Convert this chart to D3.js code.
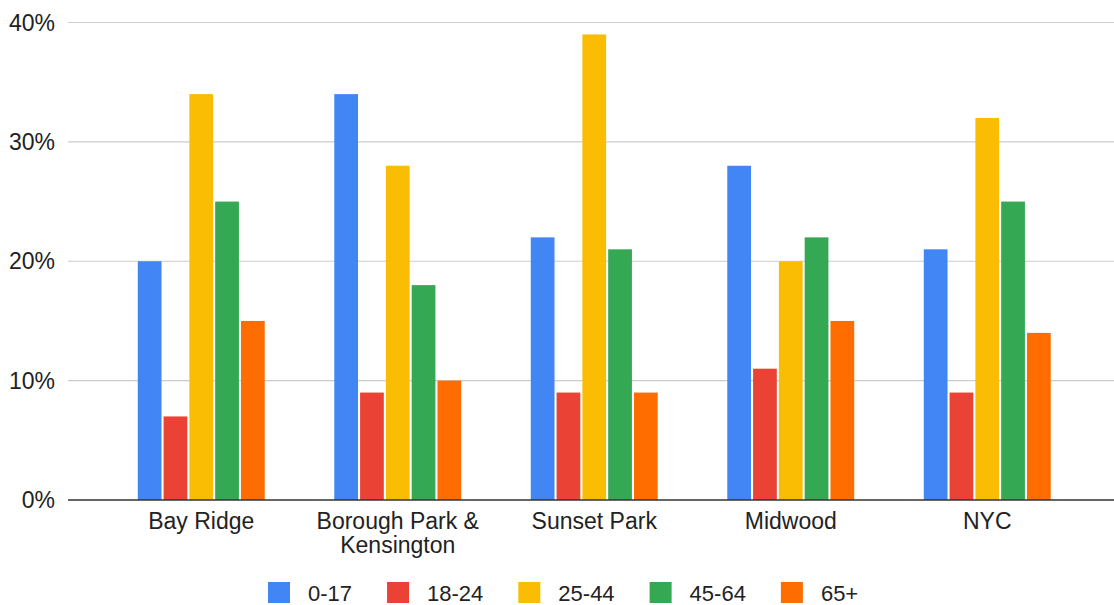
<!DOCTYPE html>
<html>
<head>
<meta charset="utf-8">
<script src="https://cdn.jsdelivr.net/npm/d3@7"></script>
<style>
  body { margin: 0; background: #fff; }
  svg { display: block; font-family: "Liberation Sans", Arial, sans-serif; }
</style>
</head>
<body>
<svg id="chart" width="1114" height="605"></svg>
<script>
// data (percent of population)
var neighborhoods = ["Bay Ridge", "Borough Park & Kensington", "Sunset Park", "Midwood", "NYC"];
var ageGroups = ["0-17", "18-24", "25-44", "45-64", "65+"];
var age0to17  = [20, 34, 22, 28, 21];
var age18to24 = [7, 9, 9, 11, 9];
var age25to44 = [34, 28, 39, 20, 32];
var age45to64 = [25, 18, 21, 22, 25];
var age65plus = [15, 10, 9, 15, 14];
var yTicks = [0, 10, 20, 30, 40];
var colors = ["#4285f4", "#ea4335", "#fbbc04", "#34a853", "#ff6d01"];

var series = [age0to17, age18to24, age25to44, age45to64, age65plus];

var svg = d3.select("#chart");

var y = d3.scaleLinear().domain([0, 40]).range([500, 22.5]);

var x0 = d3.scaleBand()
    .domain(neighborhoods)
    .range([103, 1085.5])
    .paddingInner(0.354)
    .paddingOuter(0.177);

var x1 = d3.scaleBand()
    .domain(ageGroups)
    .range([0, x0.bandwidth()])
    .paddingInner(0.08);

// gridlines
svg.append("g")
    .selectAll("line")
    .data(yTicks.filter(d => d > 0))
    .join("line")
    .attr("x1", 68)
    .attr("x2", 1114)
    .attr("y1", d => y(d))
    .attr("y2", d => y(d))
    .attr("stroke", "#cccccc")
    .attr("stroke-width", 1.2);

// y labels
svg.append("g")
    .selectAll("text")
    .data(yTicks)
    .join("text")
    .attr("x", 55)
    .attr("y", d => y(d) + 8)
    .attr("text-anchor", "end")
    .attr("font-size", 23)
    .attr("fill", "#222")
    .text(d => d + "%");

// bars
var groups = svg.append("g")
    .selectAll("g")
    .data(neighborhoods)
    .join("g")
    .attr("transform", d => `translate(${x0(d)},0)`);

groups.selectAll("rect")
    .data((d, i) => ageGroups.map((a, j) => ({ key: a, value: series[j][i], color: colors[j] })))
    .join("rect")
    .attr("x", d => x1(d.key))
    .attr("width", x1.bandwidth())
    .attr("y", d => y(d.value))
    .attr("height", d => y(0) - y(d.value))
    .attr("fill", d => d.color);

// baseline
svg.append("line")
    .attr("x1", 68)
    .attr("x2", 1114)
    .attr("y1", y(0))
    .attr("y2", y(0))
    .attr("stroke", "#333")
    .attr("stroke-width", 1.6);

// category labels (wrap Borough Park & Kensington)
var xAxis = svg.append("g");
neighborhoods.forEach(function (n) {
    var lines = n === "Borough Park & Kensington" ? ["Borough Park &", "Kensington"] : [n];
    var t = xAxis.append("text")
        .attr("text-anchor", "middle")
        .attr("font-size", 23)
        .attr("fill", "#222");
    lines.forEach(function (l, i) {
        t.append("tspan")
            .attr("x", x0(n) + x0.bandwidth() / 2)
            .attr("y", 529 + i * 24)
            .text(l);
    });
});

// legend
var legend = svg.append("g");
var lx = 268;
ageGroups.forEach(function (a, i) {
    legend.append("rect")
        .attr("x", lx)
        .attr("y", 582)
        .attr("width", 22)
        .attr("height", 21)
        .attr("fill", colors[i]);
    var t = legend.append("text")
        .attr("x", lx + 40)
        .attr("y", 601)
        .attr("font-size", 22)
        .attr("fill", "#222")
        .text(a);
    lx += 40 + t.node().getComputedTextLength() + 35;
});
</script>
</body>
</html>
